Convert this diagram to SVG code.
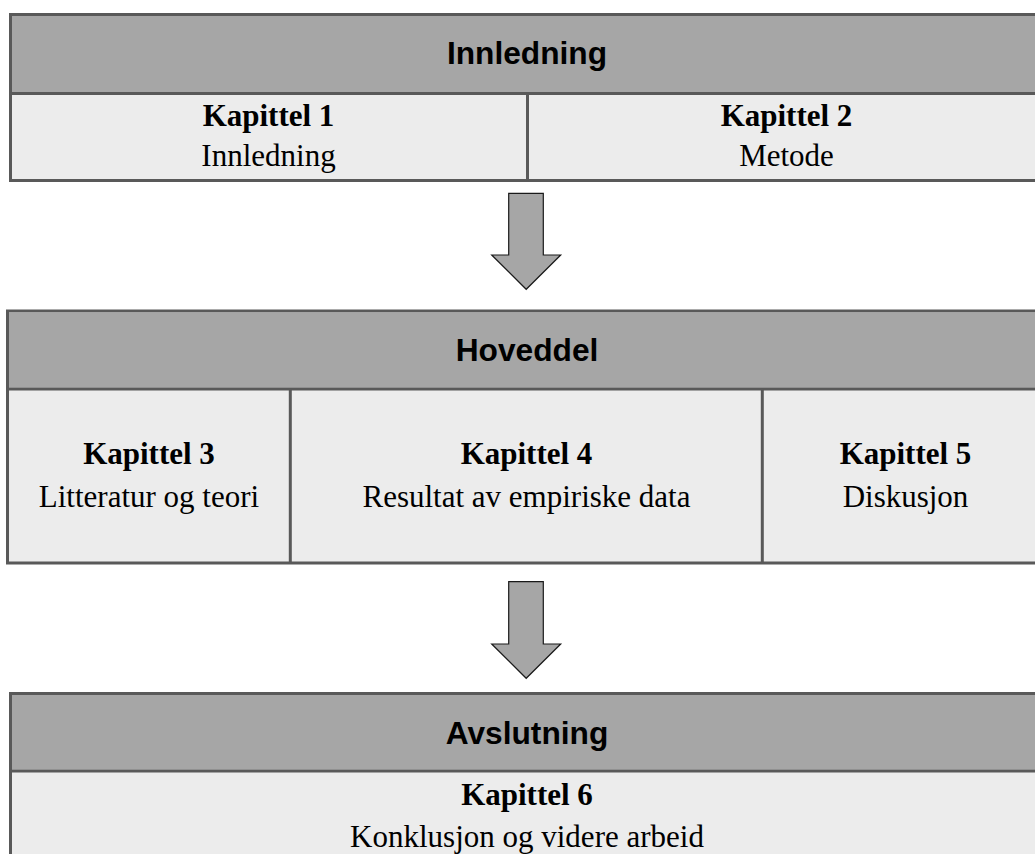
<svg xmlns="http://www.w3.org/2000/svg" width="1035" height="854" viewBox="0 0 1035 854">
  <style>
    .frame { stroke: #595959; stroke-width: 3; }
    .head { fill: #a6a6a6; }
    .body { fill: #ececec; }
    .rule { stroke: #595959; stroke-width: 3; fill: none; }
    .htxt { font-family: "Liberation Sans", Arial, sans-serif; font-weight: bold; font-size: 31.7px; fill: #000; text-anchor: middle; }
    .ktxt { font-family: "Liberation Serif", "Times New Roman", serif; font-weight: bold; font-size: 31px; fill: #000; text-anchor: middle; }
    .dtxt { font-family: "Liberation Serif", "Times New Roman", serif; font-size: 31px; fill: #000; text-anchor: middle; }
    .arrow { fill: #a6a6a6; stroke: #1a1a1a; stroke-width: 1.2; stroke-linejoin: miter; }
  </style>

  <!-- Section 1: introduction -->
  <g id="innledning">
    <rect class="body frame" x="10.5" y="14.5" width="1036" height="166"/>
    <rect class="head" x="12" y="16" width="1033" height="76"/>
    <line class="rule" x1="10" y1="93.5" x2="1046" y2="93.5"/>
    <line class="rule" x1="527.5" y1="93.5" x2="527.5" y2="180.5"/>
    <text class="htxt" x="527" y="63.5">Innledning</text>
    <text class="ktxt" x="268.5" y="126">Kapittel 1</text>
    <text class="dtxt" x="268.5" y="166">Innledning</text>
    <text class="ktxt" x="786.5" y="126">Kapittel 2</text>
    <text class="dtxt" x="786.5" y="166">Metode</text>
  </g>

  <!-- Section 2: main part -->
  <g id="hoveddel">
    <rect class="body frame" x="7.5" y="311" width="1040" height="252"/>
    <rect class="head" x="9" y="312.5" width="1037" height="75"/>
    <line class="rule" x1="7" y1="389" x2="1047" y2="389"/>
    <line class="rule" x1="290.3" y1="389" x2="290.3" y2="563"/>
    <line class="rule" x1="762.3" y1="389" x2="762.3" y2="563"/>
    <text class="htxt" x="527" y="361">Hoveddel</text>
    <text class="ktxt" x="149" y="464">Kapittel 3</text>
    <text class="dtxt" x="149" y="507">Litteratur og teori</text>
    <text class="ktxt" x="526.5" y="464">Kapittel 4</text>
    <text class="dtxt" x="526.5" y="507">Resultat av empiriske data</text>
    <text class="ktxt" x="905.5" y="464">Kapittel 5</text>
    <text class="dtxt" x="905.5" y="507">Diskusjon</text>
  </g>

  <!-- Section 3: closing part -->
  <g id="avslutning">
    <rect class="body frame" x="10.5" y="693.5" width="1036" height="200"/>
    <rect class="head" x="12" y="695" width="1033" height="74.5"/>
    <line class="rule" x1="10" y1="771" x2="1046" y2="771"/>
    <text class="htxt" x="527" y="743.5">Avslutning</text>
    <text class="ktxt" x="527" y="805">Kapittel 6</text>
    <text class="dtxt" x="527" y="847">Konklusjon og videre arbeid</text>
  </g>

  <!-- Block arrows between sections -->
  <g id="connectors">
    <polygon class="arrow" points="508.7,193.3 543.3,193.3 543.3,255 560.7,255 526.2,289.3 491.7,255 508.7,255"/>
    <polygon class="arrow" points="508.7,581.7 543.3,581.7 543.3,644 560.7,644 526.2,678.3 491.7,644 508.7,644"/>
  </g>
</svg>
